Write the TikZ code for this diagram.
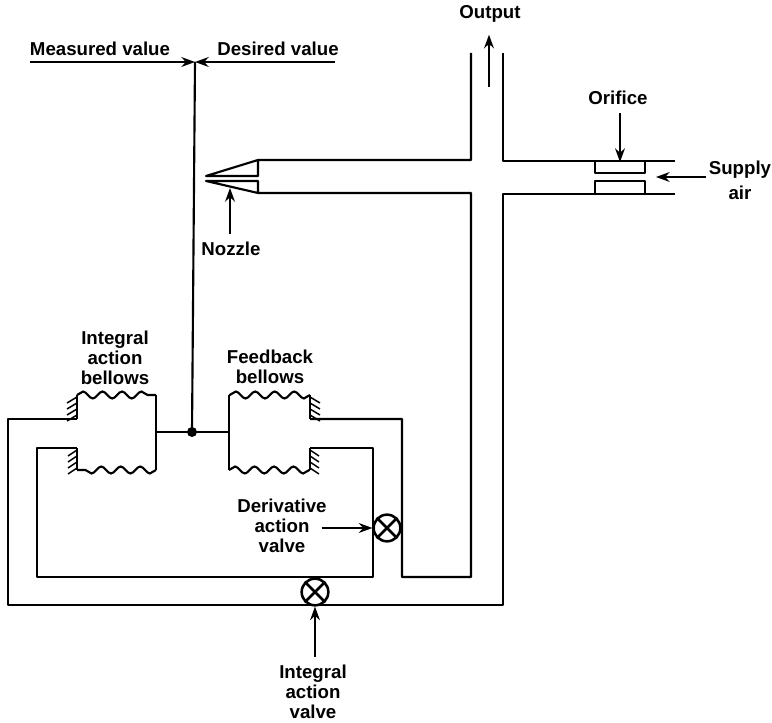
\documentclass[tikz,border=0pt]{standalone}
\usepackage{fontspec}
\setmainfont{Liberation Sans}
\usepackage{xcolor}
\usetikzlibrary{arrows.meta, positioning, decorations.pathmorphing}
\tikzstyle{pipe} = [line width=1.6pt, line join=round]
\tikzstyle{arrow} = [-{Stealth[length=3.6mm, width=2.6mm]}, line width=1.3pt]
\tikzstyle{hatch} = [line width=1.1pt]
\tikzstyle{wavy} = [line width=1.6pt, decorate, decoration={snake, segment length=14.6pt, amplitude=2.6pt}]
\tikzstyle{lbl} = [font=\bfseries\fontsize{14}{15}\selectfont, align=center, inner sep=0pt]
\tikzstyle{valve} = [circle, draw, line width=1.9pt, fill=white, minimum size=20pt, inner sep=0pt]

\begin{document}
\begin{tikzpicture}[x=0.75pt, y=-0.75pt]
    \useasboundingbox (0,0) rectangle (772,723);
    % signal line and rod
    \coordinate (sum) at (195,62);
    \coordinate (measured) at (30,62);
    \coordinate (desired) at (335,62);
    \coordinate (joint) at (192,432);
    \draw[arrow] (measured) -- (sum);
    \draw[arrow] (desired) -- (sum);
    \draw[pipe] (sum) -- (joint);
    \node[lbl] (measuredlbl) at (100,49) {Measured value};
    \node[lbl] (desiredlbl) at (278,49) {Desired value};

    % main pipework
    \draw[pipe] (471,53) -- (471,160) -- (258,160) -- (206,176) -- (258,176) -- (258,160);
    \draw[pipe] (503,53) -- (503,161) -- (675,161);
    \draw[pipe] (258,193) -- (206,181) -- (258,181) -- (258,193) -- (471,193) -- (471,577) -- (402,577) -- (402,419) -- (310,419);
    \draw[pipe] (675,194) -- (503,194) -- (503,605) -- (8,605) -- (8,419) -- (77,419);
    \draw[pipe] (77,448) -- (37,448) -- (37,577) -- (373,577) -- (373,448) -- (310,448);

    % orifice
    \draw[pipe] (595,161) -- (595,173) -- (645,173) -- (645,161);
    \draw[pipe] (595,194) -- (595,181) -- (645,181) -- (645,194);

    % bellows
    \draw[pipe] (77,419) -- (77,395);
    \draw[wavy] (77,395) -- (156,395);
    \draw[pipe] (156,395) -- (156,470);
    \draw[wavy] (156,470) -- (77,470);
    \draw[pipe] (77,470) -- (77,448);
    \draw[pipe] (310,419) -- (310,395);
    \draw[wavy] (310,395) -- (229,395);
    \draw[pipe] (229,395) -- (229,470);
    \draw[wavy] (229,470) -- (310,470);
    \draw[pipe] (310,470) -- (310,448);
    \draw[pipe] (156,432) -- (229,432);
    \fill (joint) circle (5);
    \foreach \y in {397,403,...,416} \draw[hatch] (77,\y) -- (67,\y+6);
    \foreach \y in {450,456,...,468} \draw[hatch] (77,\y) -- (68,\y+6);
    \foreach \y in {397,403,...,416} \draw[hatch] (310,\y) -- (320,\y+6);
    \foreach \y in {450,456,...,468} \draw[hatch] (310,\y) -- (319,\y+6);

    % valves
    \node[valve] (derivvalve) at (387,528) {};
    \node[valve] (intvalve) at (315,592) {};
    \foreach \v in {derivvalve,intvalve} {
        \draw[line width=1.9pt] (\v.north west) -- (\v.south east);
        \draw[line width=1.9pt] (\v.north east) -- (\v.south west);
    }

    % labels with arrows
    \node[lbl] (outputlbl) at (490,14) {Output};
    \coordinate (outputtail) at (489,87);
    \draw[arrow, shorten >=9pt] (outputtail) -- (outputlbl.south -| outputtail);
    \node[lbl] (nozzlelbl) at (231,249) {Nozzle};
    \coordinate (nozzletip) at (230,188);
    \draw[arrow, shorten <=6pt] (nozzlelbl.north -| nozzletip) -- (nozzletip);
    \node[lbl] (orificelbl) at (618,98) {Orifice};
    \coordinate (orificetip) at (620,162);
    \draw[arrow, shorten <=6pt] (orificelbl.south -| orificetip) -- (orificetip);
    \node[lbl] (supplylbl) at (740,180) {Supply\\[3.5pt]air};
    \coordinate (supplytip) at (656,177);
    \draw[arrow, shorten <=2pt] (supplylbl.west |- supplytip) -- (supplytip);
    \node[lbl] (intbellows) at (115,358) {Integral\\action\\bellows};
    \node[lbl] (fbbellows) at (270,367) {Feedback\\bellows};
    \node[lbl] (derivlbl) at (282,526) {Derivative\\action\\valve};
    \draw[arrow, shorten <=-4pt] (derivlbl.east |- derivvalve) -- (derivvalve);
    \node[lbl] (intvalvelbl) at (313,692) {Integral\\action\\valve};
    \draw[arrow, shorten <=6pt] (intvalvelbl.north -| intvalve) -- (intvalve.south);
\end{tikzpicture}
\end{document}
